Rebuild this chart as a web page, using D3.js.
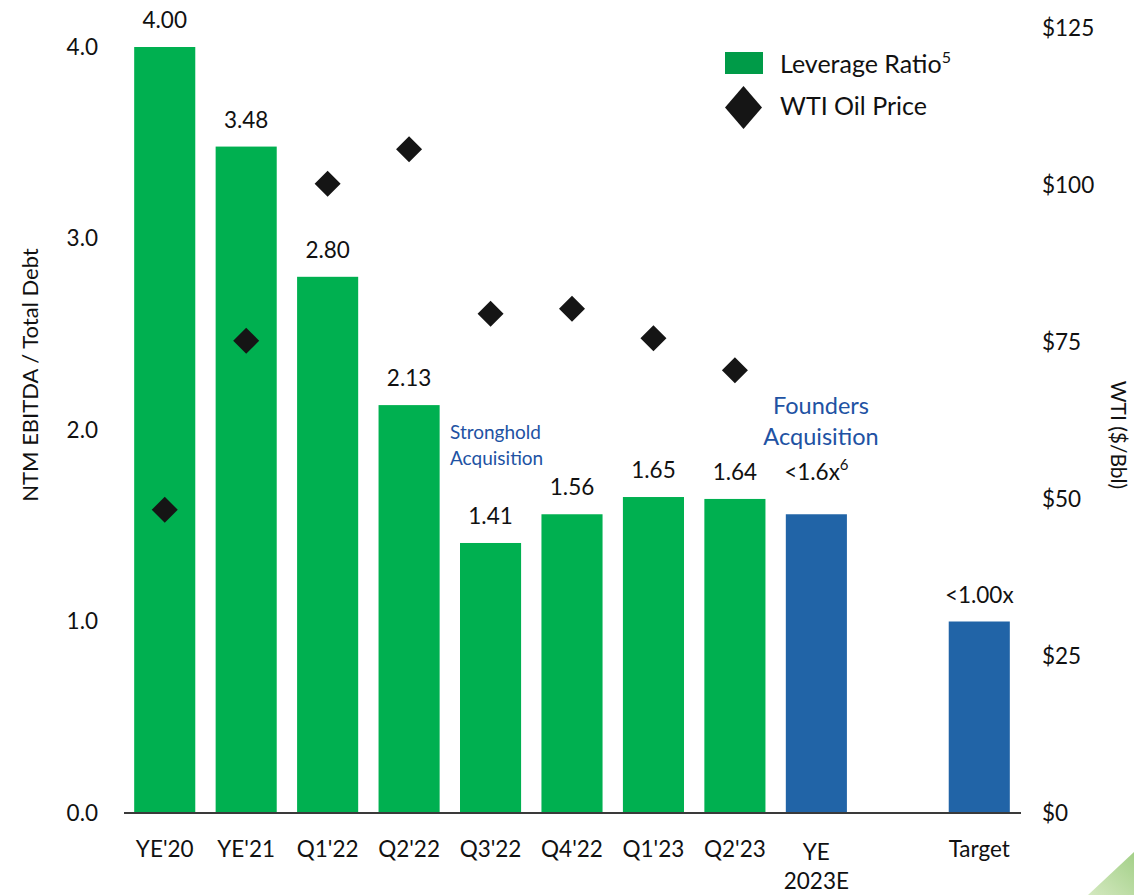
<!DOCTYPE html>
<html>
<head>
<meta charset="utf-8">
<script src="https://cdn.jsdelivr.net/npm/d3@7"></script>
<style>
  html, body { margin: 0; padding: 0; background: #fff; }
  svg { display: block; font-family: Lato, "Open Sans", sans-serif; }
</style>
</head>
<body>
<svg id="chart" width="1134" height="895"></svg>
<script>
// data
var categories = ["YE'20", "YE'21", "Q1'22", "Q2'22", "Q3'22", "Q4'22", "Q1'23", "Q2'23", "YE 2023E", "", "Target"];
var barCats = ["YE'20", "YE'21", "Q1'22", "Q2'22", "Q3'22", "Q4'22", "Q1'23", "Q2'23", "YE 2023E", "Target"];
var leverage = [4.00, 3.48, 2.80, 2.13, 1.41, 1.56, 1.65, 1.64, 1.56, 1.00];
var barLabels = ["4.00", "3.48", "2.80", "2.13", "1.41", "1.56", "1.65", "1.64", "<1.6x", "<1.00x"];
var labelSup = ["", "", "", "", "", "", "", "", "6", ""];
var projected = [false, false, false, false, false, false, false, false, true, true];
var wtiCats = ["YE'20", "YE'21", "Q1'22", "Q2'22", "Q3'22", "Q4'22", "Q1'23", "Q2'23"];
var wti = [48.3, 75.2, 100.2, 105.7, 79.5, 80.3, 75.6, 70.5];
var leftTicks = [0, 1, 2, 3, 4];
var rightTicks = [0, 25, 50, 75, 100, 125];

var green = "#00B050", legendGreen = "#009B48", blue = "#2164A7", noteBlue = "#2152A3", ink = "#111";
var fs = 22.5;

var svg = d3.select("#chart");

var x = d3.scaleBand().domain(categories).range([124, 1020]).paddingInner(0.25).paddingOuter(0.125);
var y = d3.scaleLinear().domain([0, 4]).range([813, 47]);
var y2 = d3.scaleLinear().domain([0, 125]).range([813, 28]);

// left axis
var gl = svg.append("g").attr("transform", "translate(98,0)")
  .call(d3.axisLeft(y).tickValues(leftTicks).tickFormat(d3.format(".1f")).tickSize(0).tickPadding(0));
gl.select(".domain").remove();
gl.selectAll("text").attr("font-size", fs).attr("font-family", "Lato").attr("fill", ink);

// right axis
var gr = svg.append("g").attr("transform", "translate(1042,0)")
  .call(d3.axisRight(y2).tickValues(rightTicks).tickFormat(function(d){ return "$" + d; }).tickSize(0).tickPadding(0));
gr.select(".domain").remove();
gr.selectAll("text").attr("font-size", fs).attr("font-family", "Lato").attr("fill", ink);

// axis titles
svg.append("text").attr("transform", "translate(38,375) rotate(-90)")
  .attr("text-anchor", "middle").attr("font-size", 22).attr("fill", ink)
  .text("NTM EBITDA / Total Debt");
svg.append("text").attr("transform", "translate(1111,435) rotate(90)")
  .attr("text-anchor", "middle").attr("font-size", 21).attr("fill", ink)
  .text("WTI ($/Bbl)");

// bars
svg.selectAll("rect.bar").data(leverage).enter().append("rect")
  .attr("class", "bar")
  .attr("x", function(d, i){ return x(barCats[i]); })
  .attr("width", x.bandwidth())
  .attr("y", function(d){ return y(d); })
  .attr("height", function(d){ return y(0) - y(d); })
  .attr("fill", function(d, i){ return projected[i] ? blue : green; });

// baseline
svg.append("line").attr("x1", 124).attr("x2", 1021).attr("y1", y(0)).attr("y2", y(0))
  .attr("stroke", "#3a3a3a").attr("stroke-width", 2);

// bar value labels
var lab = svg.selectAll("text.val").data(leverage).enter().append("text")
  .attr("class", "val")
  .attr("x", function(d, i){ return x(barCats[i]) + x.bandwidth() / 2; })
  .attr("y", function(d, i){ return y(d) - (labelSup[i] ? 34 : 19); })
  .attr("text-anchor", "middle").attr("font-size", fs).attr("fill", ink);
lab.append("tspan").text(function(d, i){ return barLabels[i]; });
lab.each(function(d, i){
  if (labelSup[i]) {
    d3.select(this).append("tspan").attr("font-size", 15).attr("dy", -10).text(labelSup[i]);
  }
});

// category labels
var cl = svg.selectAll("text.cat").data(barCats).enter().append("text")
  .attr("class", "cat")
  .attr("x", function(d){ return x(d) + x.bandwidth() / 2; })
  .attr("y", function(d){ return d === "YE 2023E" ? 860 : 857; })
  .attr("text-anchor", "middle").attr("font-size", fs).attr("fill", ink);
cl.each(function(d){
  var t = d3.select(this);
  if (d === "YE 2023E") {
    t.append("tspan").attr("x", x(d) + x.bandwidth() / 2).text("YE");
    t.append("tspan").attr("x", x(d) + x.bandwidth() / 2).attr("dy", 29).text("2023E");
  } else {
    t.text(d);
  }
});

// WTI diamonds
var diamond = function(w, h){ return "M0," + (-h) + "L" + w + ",0L0," + h + "L" + (-w) + ",0Z"; };
svg.selectAll("path.wti").data(wti).enter().append("path")
  .attr("class", "wti")
  .attr("transform", function(d, i){ return "translate(" + (x(wtiCats[i]) + x.bandwidth() / 2) + "," + y2(d) + ")"; })
  .attr("d", diamond(13, 13))
  .attr("fill", "#151515");

// annotations
var s = svg.append("text").attr("font-size", 19).attr("fill", noteBlue);
s.append("tspan").attr("x", 450).attr("y", 439).text("Stronghold");
s.append("tspan").attr("x", 450).attr("y", 465).text("Acquisition");
var f = svg.append("text").attr("font-size", 23.5).attr("fill", noteBlue).attr("text-anchor", "middle");
f.append("tspan").attr("x", 821).attr("y", 414).text("Founders");
f.append("tspan").attr("x", 821).attr("y", 445).text("Acquisition");

// legend
svg.append("rect").attr("x", 725).attr("y", 52).attr("width", 38).attr("height", 22).attr("fill", legendGreen);
var l1 = svg.append("text").attr("x", 780).attr("y", 73).attr("font-size", 25).attr("fill", ink);
l1.append("tspan").text("Leverage Ratio");
l1.append("tspan").attr("font-size", 16).attr("dy", -10).text("5");
svg.append("path").attr("transform", "translate(743.5,107.5)").attr("d", diamond(18.5, 21.5)).attr("fill", "#151515");
svg.append("text").attr("x", 780).attr("y", 115).attr("font-size", 25).attr("fill", ink).text("WTI Oil Price");

// corner decoration
var grad = svg.append("defs").append("linearGradient").attr("id", "cg")
  .attr("x1", "0").attr("y1", "1").attr("x2", "1").attr("y2", "0");
grad.append("stop").attr("offset", "0").attr("stop-color", "#c9e3b0");
grad.append("stop").attr("offset", "1").attr("stop-color", "#8cc46a");
svg.append("polygon").attr("points", "1088,895 1134,852 1134,895").attr("fill", "url(#cg)").attr("opacity", 0.8);
</script>
</body>
</html>
